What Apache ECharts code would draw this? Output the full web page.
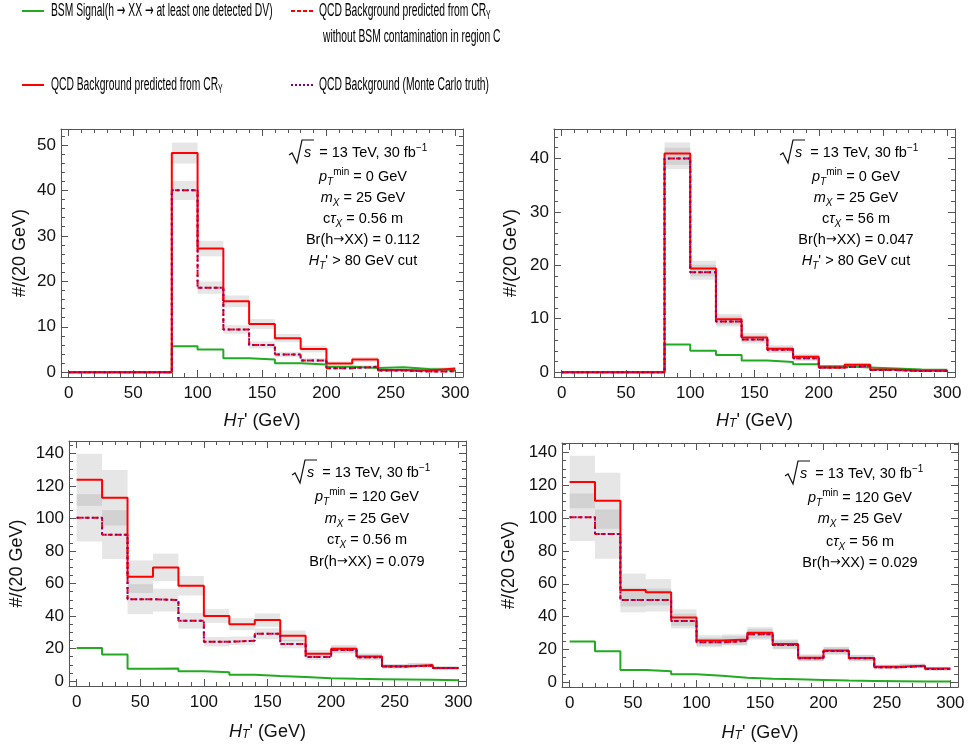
<!DOCTYPE html>
<html><head><meta charset="utf-8">
<script src="https://cdn.jsdelivr.net/npm/echarts@6/dist/echarts.min.js"></script>
<style>html,body{margin:0;padding:0;background:#fff}#c{width:969px;height:748px}</style>
</head><body><div id="c"></div>
<script>
// ---------- data ----------
const binLeft = [0,20,40,60,80,100,120,140,160,180,200,220,240,260,280];
const binWidth = 20;
const xTicks = [0,50,100,150,200,250,300];
const xMinor = [10,20,30,40,60,70,80,90,110,120,130,140,160,170,180,190,210,220,230,240,260,270,280,290];

// Panel 1 (pTmin = 0, ctau = 0.56 m)
const p1Signal   = [0,0,0,0,5.7,5.0,3.1,2.8,2.0,1.7,1.2,0.95,1.1,0.7,0.5];
const p1Pred     = [0,0,0,0,48.2,27.2,15.6,10.6,7.5,5.1,1.9,2.8,0.5,0.4,0.8];
const p1PredErr  = [0,0,0,0,2.3,1.7,1.3,1.1,0.9,0.75,0.45,0.55,0.25,0.2,0.3];
const p1NoBSM    = [0,0,0,0,40.0,18.6,9.4,6.0,3.9,2.6,0.9,1.2,0.4,0.15,0.2];
const p1NoBSMErr = [0,0,0,0,2.1,1.35,0.95,0.75,0.6,0.5,0.3,0.35,0.2,0.1,0.15];
const p1MC       = [0,0,0,0,40.0,18.6,9.4,6.0,3.9,2.6,0.9,1.2,0.4,0.15,0.2];
const p1YTicks = [0,10,20,30,40,50];

// Panel 2 (pTmin = 0, ctau = 56 m)
const p2Signal   = [0,0,0,0,5.2,4.0,3.2,2.2,1.9,1.5,1.1,0.9,0.7,0.5,0.45];
const p2Pred     = [0,0,0,0,40.9,19.4,9.9,6.5,4.4,2.9,0.9,1.4,0.5,0.25,0.3];
const p2PredErr  = [0,0,0,0,2.1,1.45,1.0,0.8,0.65,0.55,0.3,0.4,0.2,0.15,0.15];
const p2NoBSM    = [0,0,0,0,40.0,18.7,9.5,6.1,4.2,2.6,0.9,1.2,0.4,0.2,0.2];
const p2NoBSMErr = [0,0,0,0,2.0,1.4,0.95,0.75,0.6,0.5,0.3,0.35,0.2,0.1,0.15];
const p2MC       = [0,0,0,0,40.0,18.7,9.5,6.1,4.2,2.6,0.9,1.2,0.4,0.2,0.2];
const p2YTicks = [0,10,20,30,40];

// Panel 3 (pTmin = 120, ctau = 0.56 m)
const p3Signal   = [20.3,16.4,7.6,7.8,6.1,5.5,3.9,3.1,2.5,1.8,1.4,1.2,1.0,0.8,0.6];
const p3Pred     = [123.8,112.7,64.2,69.9,58.6,40.0,35.0,37.5,27.9,16.8,19.9,15.2,9.2,9.8,8.0];
const p3PredErr  = [16,17,10,8.5,6,4.2,3.7,4.1,3.3,2.2,2.4,1.9,1.3,1.3,1.1];
const p3NoBSM    = [100.4,90.0,50.4,49.8,37.1,24.2,24.8,29.1,22.8,14.8,19.1,14.6,9.0,9.6,8.0];
const p3NoBSMErr = [14.5,15,9.2,7,4.8,2.9,2.6,3.4,2.6,1.8,2.2,1.8,1.2,1.3,1.1];
const p3MC       = [100.4,90.0,50.4,49.8,37.1,24.2,24.8,29.1,22.8,14.8,19.1,14.6,9.0,9.6,8.0];
const p3YTicks = [0,20,40,60,80,100,120,140];

// Panel 4 (pTmin = 120, ctau = 56 m)
const p4Signal   = [24.8,18.9,7.5,6.7,4.9,3.9,2.8,2.2,1.8,1.4,1.0,0.8,0.6,0.4,0.4];
const p4Pred     = [122.1,110.6,56.2,54.8,39.4,25.4,26.0,30.2,23.3,15.0,19.3,14.8,9.5,10.1,8.3];
const p4PredErr  = [16,17,10,8,5,3.2,3.2,3.4,2.8,2.0,2.3,1.9,1.3,1.3,1.1];
const p4NoBSM    = [100.6,90.3,50.1,50.1,37.3,24.3,25.2,29.2,22.7,14.6,19.1,14.6,9.1,9.9,8.1];
const p4NoBSMErr = [14.5,15,7.5,7,4.5,2.9,2.9,3.3,2.7,1.9,2.2,1.9,1.3,1.3,1.1];
const p4MC       = [100.6,90.3,50.1,50.1,37.3,24.3,25.2,29.2,22.7,14.6,19.1,14.6,9.1,9.9,8.1];
const p4YTicks = [0,20,40,60,80,100,120,140];

// ---------- layout / style ----------
const FONT = "'Liberation Sans', Arial, sans-serif";
const ARROWFONT = "'DejaVu Sans', sans-serif";
const FRAME = '#555555';
const TXT = '#111111';
const GREEN = '#22aa22', RED = '#ff0000', PURPLE = '#800080';

const panels = [
  {grid:{left:61, top:129, width:402, height:248}, y:[-1.05,53.5], yTicks:p1YTicks, yMinorStep:2, yNameGap:32,
   sig:p1Signal, pred:p1Pred, predErr:p1PredErr, nob:p1NoBSM, nobErr:p1NoBSMErr, mc:p1MC},
  {grid:{left:554, top:129, width:401, height:248}, y:[-0.9,45.5], yTicks:p2YTicks, yMinorStep:2, yNameGap:34,
   sig:p2Signal, pred:p2Pred, predErr:p2PredErr, nob:p2NoBSM, nobErr:p2NoBSMErr, mc:p2MC},
  {grid:{left:69, top:441, width:397, height:245}, y:[-3,147.6], yTicks:p3YTicks, yMinorStep:5, yNameGap:43,
   sig:p3Signal, pred:p3Pred, predErr:p3PredErr, nob:p3NoBSM, nobErr:p3NoBSMErr, mc:p3MC},
  {grid:{left:562, top:443, width:396, height:244}, y:[-2.9,145.8], yTicks:p4YTicks, yMinorStep:5, yNameGap:44,
   sig:p4Signal, pred:p4Pred, predErr:p4PredErr, nob:p4NoBSM, nobErr:p4NoBSMErr, mc:p4MC}
];

function minorList(ticks, step, max) {
  const out = [];
  for (let v = step; v < max; v += step) {
    if (!ticks.some(t => Math.abs(t - v) < 1e-6)) out.push(+v.toFixed(4));
  }
  return out;
}
function stepData(vals) {
  const d = binLeft.map((x, i) => [x, vals[i]]);
  d.push([binLeft[binLeft.length - 1] + binWidth, vals[vals.length - 1]]);
  return d;
}
function bandData(vals, errs) {
  const d = [];
  vals.forEach((v, i) => { if (errs[i] > 0) d.push([binLeft[i], binLeft[i] + binWidth, v - errs[i], v + errs[i]]); });
  return d;
}
const richBase = {
  n:  {fontSize:18, fontFamily:FONT, color:TXT},
  it: {fontSize:18, fontFamily:FONT, color:TXT, fontStyle:'italic'},
  sub:{fontSize:12, fontFamily:FONT, color:TXT, fontStyle:'italic', verticalAlign:'bottom', lineHeight:12}
};

const grids = [], xAxes = [], yAxes = [], series = [];
panels.forEach((p, g) => {
  grids.push(Object.assign({containLabel:false}, p.grid));
  const base = {gridIndex:g, type:'value', offset:0, splitLine:{show:false}, axisPointer:{show:false}};
  const xb = Object.assign({}, base, {min:-6, max:306});
  const yb = Object.assign({}, base, {min:p.y[0], max:p.y[1]});
  const yMinor = minorList(p.yTicks, p.yMinorStep, p.y[1]);
  const hiddenLine = {show:false, onZero:false};
  const frameLine = {show:true, onZero:false, lineStyle:{color:FRAME, width:1}};
  // x axes: bottom major (labels), bottom minor, top major, top minor
  xAxes.push(Object.assign({}, xb, {position:'bottom', axisLine:frameLine,
    axisTick:{show:true, inside:true, length:7, customValues:xTicks, lineStyle:{color:FRAME}},
    axisLabel:{customValues:xTicks, margin:8, fontSize:17, color:TXT, fontFamily:FONT},
    name:"{it|H}{sub|T}{n|' (GeV)}", nameLocation:'middle', nameGap:g < 2 ? 35 : 37,
    nameTextStyle:{rich:richBase, fontSize:18, fontFamily:FONT, color:TXT}}));
  xAxes.push(Object.assign({}, xb, {position:'bottom', axisLine:hiddenLine,
    axisTick:{show:true, inside:true, length:4, customValues:xMinor, lineStyle:{color:FRAME}}, axisLabel:{show:false}}));
  xAxes.push(Object.assign({}, xb, {position:'top', axisLine:frameLine,
    axisTick:{show:true, inside:true, length:7, customValues:xTicks, lineStyle:{color:FRAME}}, axisLabel:{show:false}}));
  xAxes.push(Object.assign({}, xb, {position:'top', axisLine:hiddenLine,
    axisTick:{show:true, inside:true, length:4, customValues:xMinor, lineStyle:{color:FRAME}}, axisLabel:{show:false}}));
  // y axes: left major (labels), left minor, right major, right minor
  yAxes.push(Object.assign({}, yb, {position:'left', axisLine:frameLine,
    axisTick:{show:true, inside:true, length:7, customValues:p.yTicks, lineStyle:{color:FRAME}},
    axisLabel:{customValues:p.yTicks, margin:5, fontSize:17, color:TXT, fontFamily:FONT},
    name:'#/(20 GeV)', nameLocation:'middle', nameGap:p.yNameGap,
    nameTextStyle:{fontSize:18, fontFamily:FONT, color:TXT}}));
  yAxes.push(Object.assign({}, yb, {position:'left', axisLine:hiddenLine,
    axisTick:{show:true, inside:true, length:4, customValues:yMinor, lineStyle:{color:FRAME}}, axisLabel:{show:false}}));
  yAxes.push(Object.assign({}, yb, {position:'right', axisLine:frameLine,
    axisTick:{show:true, inside:true, length:7, customValues:p.yTicks, lineStyle:{color:FRAME}}, axisLabel:{show:false}}));
  yAxes.push(Object.assign({}, yb, {position:'right', axisLine:hiddenLine,
    axisTick:{show:true, inside:true, length:4, customValues:yMinor, lineStyle:{color:FRAME}}, axisLabel:{show:false}}));

  const xi = g * 4, yi = g * 4;
  const band = (name, vals, errs) => ({
    type:'custom', name, xAxisIndex:xi, yAxisIndex:yi, clip:true, silent:true, z:1,
    data:bandData(vals, errs), encode:{x:[0,1], y:[2,3]},
    renderItem:(params, api) => {
      const a = api.coord([api.value(0), api.value(3)]);
      const b = api.coord([api.value(1), api.value(2)]);
      return {type:'rect', shape:{x:a[0], y:a[1], width:b[0]-a[0], height:b[1]-a[1]},
        style:{fill:'rgba(128,128,128,0.2)'}};
    }
  });
  const line = (name, vals, color, type, width, z) => ({
    type:'line', name, xAxisIndex:xi, yAxisIndex:yi, data:stepData(vals), step:'end',
    symbol:'none', clip:true, z, silent:true,
    lineStyle:{color, width, type}
  });
  series.push(band('pred band', p.pred, p.predErr));
  series.push(band('noBSM band', p.nob, p.nobErr));
  series.push(line('BSM Signal', p.sig, GREEN, 'solid', 2, 3));
  series.push(line('QCD Background predicted from CR_Y', p.pred, RED, 'solid', 2, 4));
  series.push(line('QCD Background predicted from CR_Y without BSM contamination', p.nob, RED, [5,3], 2, 5));
  series.push(line('QCD Background (Monte Carlo truth)', p.mc, PURPLE, [2,3], 2, 6));
});

// ---------- annotations ----------
const annRich = {
  n:  {fontSize:14.5, fontFamily:FONT, color:TXT, lineHeight:20},
  ar: {fontSize:13, fontFamily:ARROWFONT, color:TXT, lineHeight:20},
  it: {fontSize:14.5, fontFamily:FONT, color:TXT, fontStyle:'italic', lineHeight:20},
  sub:{fontSize:10, fontFamily:FONT, color:TXT, fontStyle:'italic', verticalAlign:'bottom', lineHeight:10},
  sup:{fontSize:10, fontFamily:FONT, color:TXT, verticalAlign:'top', lineHeight:8}
};
const annotations = [
  {sx:304, cy:153, cx:363, ys:[177,198,219,240,261], lines:[
    '{it|p}{sub|T}{sup|min}{n| = 0 GeV}', '{it|m}{sub|X}{n| = 25 GeV}', '{n|c}{it|τ}{sub|X}{n| = 0.56 m}',
    '{n|Br(h}{ar|→}{n|XX) = 0.112}', "{it|H}{sub|T}{n|' > 80 GeV cut}"]},
  {sx:795, cy:153, cx:856, ys:[177,198,219,240,261], lines:[
    '{it|p}{sub|T}{sup|min}{n| = 0 GeV}', '{it|m}{sub|X}{n| = 25 GeV}', '{n|c}{it|τ}{sub|X}{n| = 56 m}',
    '{n|Br(h}{ar|→}{n|XX) = 0.047}', "{it|H}{sub|T}{n|' > 80 GeV cut}"]},
  {sx:307, cy:473, cx:367, ys:[497,519,540,562], lines:[
    '{it|p}{sub|T}{sup|min}{n| = 120 GeV}', '{it|m}{sub|X}{n| = 25 GeV}', '{n|c}{it|τ}{sub|X}{n| = 0.56 m}',
    '{n|Br(h}{ar|→}{n|XX) = 0.079}']},
  {sx:800, cy:474, cx:860, ys:[498,519,542,563], lines:[
    '{it|p}{sub|T}{sup|min}{n| = 120 GeV}', '{it|m}{sub|X}{n| = 25 GeV}', '{n|c}{it|τ}{sub|X}{n| = 56 m}',
    '{n|Br(h}{ar|→}{n|XX) = 0.029}']}
];
const graphic = [];
annotations.forEach(a => {
  graphic.push({type:'polyline', silent:true,
    shape:{points:[[a.sx-15,a.cy+2],[a.sx-12,a.cy],[a.sx-7,a.cy+10],[a.sx-2,a.cy-13],[a.sx+10,a.cy-13]]},
    style:{stroke:TXT, lineWidth:1.2, fill:null}});
  graphic.push({type:'text', x:a.sx, y:a.cy, silent:true,
    style:{text:'{it|s}{n|  = 13 TeV, 30 fb}{sup|−1}', rich:annRich, align:'left', verticalAlign:'middle'}});
  a.lines.forEach((t, i) => graphic.push({type:'text', x:a.cx, y:a.ys[i], silent:true,
    style:{text:t, rich:annRich, align:'center', verticalAlign:'middle'}}));
});

// ---------- legend (drawn as graphic to match the compressed layout) ----------
const legRich = {
  n:  {fontSize:18, fontFamily:FONT, color:TXT, lineHeight:22},
  ar: {fontSize:18, fontFamily:ARROWFONT, color:TXT, lineHeight:22},
  sub:{fontSize:12, fontFamily:FONT, color:TXT, verticalAlign:'bottom', lineHeight:12}
};
const LSX = 0.572;
const legendItems = [
  {x1:22, y:11, color:GREEN, dash:null, tx:51, text:'{n|BSM Signal(h }{ar|→}{n| XX }{ar|→}{n| at least one detected DV)}'},
  {x1:291, y:11, color:RED, dash:[4,2], tx:319, text:'{n|QCD Background predicted from CR}{sub|Y}'},
  {x1:22, y:85, color:RED, dash:null, tx:51, text:'{n|QCD Background predicted from CR}{sub|Y}'},
  {x1:291, y:85, color:PURPLE, dash:[2,2], tx:319, text:'{n|QCD Background (Monte Carlo truth)}'}
];
legendItems.forEach(l => {
  graphic.push({type:'line', silent:true, shape:{x1:l.x1, y1:l.y, x2:l.x1+22, y2:l.y},
    style:{stroke:l.color, lineWidth:2, lineDash:l.dash || undefined}});
  graphic.push({type:'text', x:l.tx, y:l.y, scaleX:LSX, silent:true,
    style:{text:l.text, rich:legRich, align:'left', verticalAlign:'middle'}});
});
graphic.push({type:'text', x:323, y:37, scaleX:LSX, silent:true,
  style:{text:'{n|without BSM contamination in region C}', rich:legRich, align:'left', verticalAlign:'middle'}});

const chart = echarts.init(document.getElementById('c'), null, {renderer:'canvas'});
chart.setOption({
  backgroundColor:'#ffffff',
  animation:false,
  grid:grids, xAxis:xAxes, yAxis:yAxes, series, graphic
});
</script></body></html>
